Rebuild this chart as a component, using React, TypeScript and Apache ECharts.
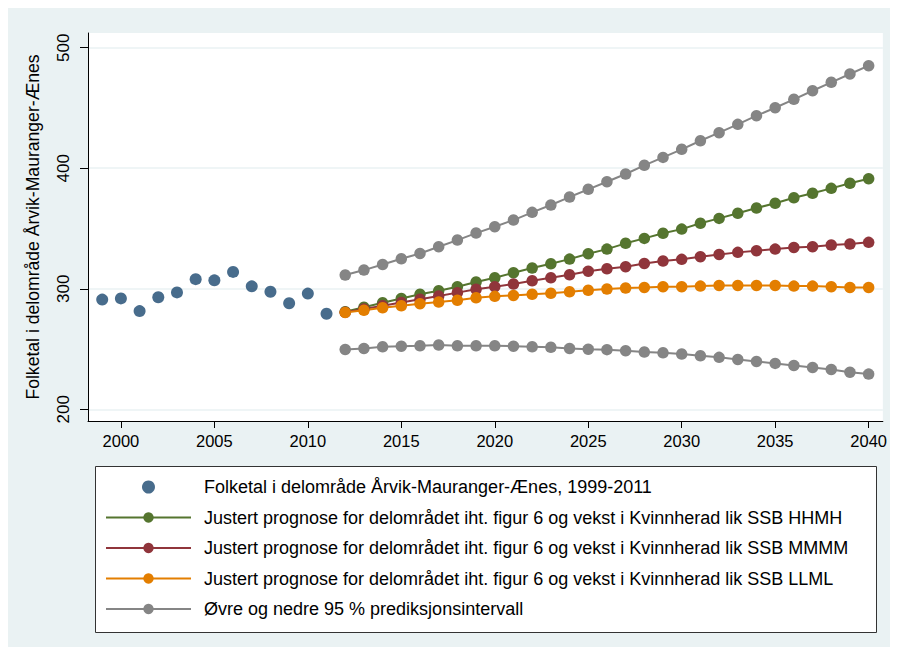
import React, { useEffect, useRef } from "react";
import * as echarts from "echarts";

const FONT = "'Liberation Sans', Arial, Helvetica, sans-serif";

const histYears = [1999, 2000, 2001, 2002, 2003, 2004, 2005, 2006, 2007, 2008, 2009, 2010, 2011];
const histValues = [291, 292, 281.5, 293, 297, 308, 307, 314, 302, 297.5, 288, 296, 279.3];

const projYears = [
  2012, 2013, 2014, 2015, 2016, 2017, 2018, 2019, 2020, 2021, 2022, 2023, 2024, 2025, 2026,
  2027, 2028, 2029, 2030, 2031, 2032, 2033, 2034, 2035, 2036, 2037, 2038, 2039, 2040,
];
const hhmhValues = [
  280.9, 284.6, 288.4, 292, 295.4, 298.3, 301.7, 305.6, 309.1, 313.3, 317.2, 320.7, 324.6, 329.1, 332.9,
  337.7, 341.8, 346, 349.5, 354.3, 358.4, 362.6, 367, 370.9, 375.5, 379.2, 383.3, 387.5, 391.3,
];
const mmmmValues = [
  280.5, 283.3, 286, 288.6, 291.3, 294, 296.8, 299.6, 301.7, 303.9, 306.6, 309.1, 311.6, 314.6, 316.6,
  318.3, 321, 323, 324.4, 326.6, 328.5, 330.2, 331.6, 332.9, 334.3, 334.9, 336.3, 337.1, 338.5,
];
const llmlValues = [
  280.4, 282.1, 284.2, 285.9, 287.6, 289, 290.4, 292.5, 293.7, 294.5, 295.4, 296.2, 297.5, 298.7, 299.8,
  300.6, 301.1, 301.7, 301.7, 302.2, 302.8, 302.8, 302.8, 302.8, 302.2, 302.2, 301.7, 301.1, 301.1,
];
const upperValues = [
  311.4, 315.5, 320.2, 324.9, 329.3, 334.9, 340.4, 346.2, 351.5, 357, 363.4, 369.5, 376.1, 382.5, 388.8,
  395.2, 402.4, 409, 415.7, 422.8, 429.5, 436.4, 443.6, 450.2, 457.2, 464.3, 471.3, 478.2, 485.1,
];
const lowerValues = [
  249.7, 250.5, 251.9, 252.4, 252.7, 253.3, 252.7, 252.7, 252.7, 252.4, 251.9, 251.4, 250.5, 249.9, 249.5,
  248.6, 247.5, 246.9, 245.8, 244.4, 243.1, 241.4, 239.7, 238.1, 236.4, 234.7, 233.1, 230.8, 229.2,
];

const xTicks = [2000, 2005, 2010, 2015, 2020, 2025, 2030, 2035, 2040];
const yTicks = [200, 300, 400, 500];

const yTitle = "Folketal i delområde Årvik-Mauranger-Ænes";
const legendNames = [
  "Folketal i delområde Årvik-Mauranger-Ænes, 1999-2011",
  "Justert prognose for delområdet iht. figur 6 og vekst i Kvinnherad lik SSB HHMH",
  "Justert prognose for delområdet iht. figur 6 og vekst i Kvinnherad lik SSB MMMM",
  "Justert prognose for delområdet iht. figur 6 og vekst i Kvinnherad lik SSB LLML",
  "Øvre og nedre 95 % prediksjonsintervall",
];

const COLORS = {
  navy: "#1a476f",
  green: "#55752f",
  maroon: "#90353b",
  orange: "#e37e00",
  gray: "#858585",
};

const pairs = (xs: number[], ys: number[]) => xs.map((x, i) => [x, ys[i]]);

const lineSeries = (name: string, ys: number[], color: string) => ({
  type: "line",
  name,
  data: pairs(projYears, ys),
  symbol: "circle",
  symbolSize: 11.5,
  lineStyle: { color, width: 2 },
  itemStyle: { color },
  emphasis: { disabled: true },
});

export default function App() {
  const ref = useRef<HTMLDivElement>(null);

  useEffect(() => {
    if (!ref.current) return;
    const chart = echarts.init(ref.current, null, { renderer: "svg" });
    const option = {
      animation: false,
      backgroundColor: "#eaf2f3",
      textStyle: { fontFamily: FONT },
      grid: {
        left: 80,
        right: 6,
        top: 25,
        bottom: 226,
        show: true,
        backgroundColor: "#ffffff",
        borderWidth: 0,
      },
      xAxis: {
        type: "value",
        min: 1998.24,
        max: 2040.76,
        axisLine: { show: true, onZero: false, lineStyle: { color: "#000", width: 1 } },
        axisTick: { show: true, length: 7, customValues: xTicks, lineStyle: { color: "#000" } },
        axisLabel: {
          customValues: xTicks,
          formatter: (v: number) => String(v),
          margin: 11,
          color: "#000",
          fontSize: 16.5,
          fontFamily: FONT,
        },
        splitLine: { show: false },
      },
      yAxis: {
        type: "value",
        min: 190.3,
        max: 512.2,
        name: yTitle,
        nameLocation: "middle",
        nameGap: 46,
        nameRotate: 90,
        nameTextStyle: { color: "#000", fontSize: 17.6, fontFamily: FONT },
        axisLine: { show: true, onZero: false, lineStyle: { color: "#000", width: 1 } },
        axisTick: { show: true, length: 8, customValues: yTicks, lineStyle: { color: "#000" } },
        axisLabel: {
          customValues: yTicks,
          formatter: (v: number) => String(v),
          rotate: 90,
          margin: 16,
          color: "#000",
          fontSize: 17,
          fontFamily: FONT,
        },
        splitLine: { show: true, lineStyle: { color: "#eaf2f3", width: 1.5 } },
      },
      graphic: [
        {
          type: "rect",
          shape: { x: 87.5, y: 458.5, width: 781, height: 166 },
          style: { fill: "#ffffff", stroke: "#333333", lineWidth: 1 },
          silent: true,
        },
      ],
      legend: {
        orient: "vertical",
        left: 97,
        top: 470,
        padding: 0,
        itemWidth: 85,
        itemHeight: 13,
        itemGap: 12.5,
        selectedMode: false,
        data: legendNames.map((n, i) => (i === 0 ? { name: n, icon: "circle" } : { name: n })),
        textStyle: {
          color: "#000",
          fontSize: 18,
          fontFamily: FONT,
          lineHeight: 18,
          padding: [0, 0, 0, 8],
        },
      },
      series: [
        {
          type: "scatter",
          name: legendNames[0],
          data: pairs(histYears, histValues),
          symbol: "circle",
          symbolSize: 12,
          itemStyle: { color: COLORS.navy },
          emphasis: { disabled: true },
        },
        lineSeries(legendNames[1], hhmhValues, COLORS.green),
        lineSeries(legendNames[2], mmmmValues, COLORS.maroon),
        lineSeries(legendNames[3], llmlValues, COLORS.orange),
        lineSeries(legendNames[4], upperValues, COLORS.gray),
        lineSeries(legendNames[4], lowerValues, COLORS.gray),
      ],
    };
    chart.setOption(option as any);
    return () => chart.dispose();
  }, []);

  return <div ref={ref} style={{ width: 882, height: 639 }} />;
}
